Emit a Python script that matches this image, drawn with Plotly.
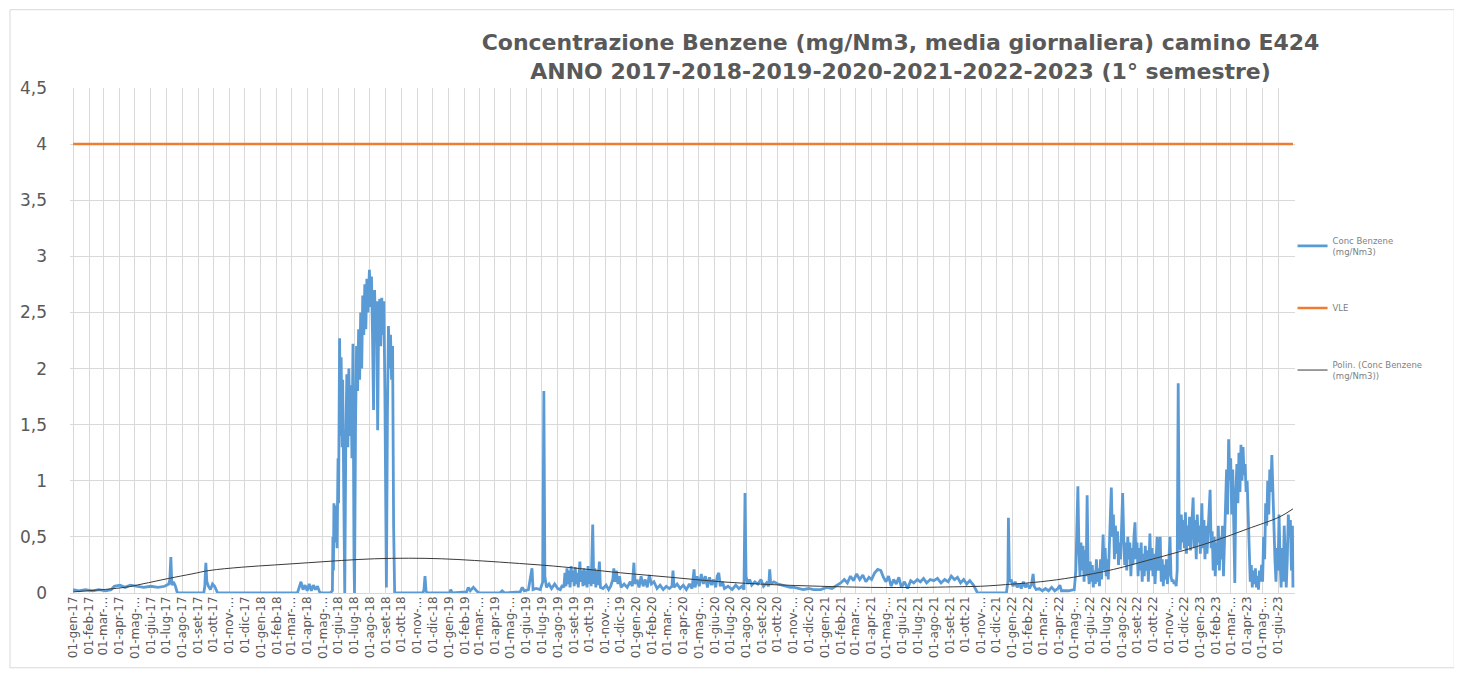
import plotly.graph_objects as go

# ---------------- data ----------------
DATES = [
    # 2017 - early 2018
    "2017-01-01","2017-01-12","2017-01-25","2017-02-08","2017-02-20","2017-03-05","2017-03-16","2017-03-22",
    "2017-04-02","2017-04-12","2017-04-22","2017-05-05","2017-05-18","2017-06-01","2017-06-15","2017-06-28",
    "2017-07-06","2017-07-08","2017-07-10","2017-07-12","2017-07-15","2017-07-19","2017-07-22","2017-07-25",
    "2017-09-12","2017-09-14","2017-09-16","2017-09-18","2017-09-21","2017-09-25","2017-09-29","2017-10-03",
    "2017-10-07","2017-10-09","2018-03-13","2018-03-16","2018-03-20","2018-03-24","2018-03-28","2018-04-01",
    "2018-04-05","2018-04-09","2018-04-13","2018-04-17","2018-04-21","2018-04-25","2018-04-28","2018-05-16",
    # 2018 episode
    "2018-05-20","2018-05-21","2018-05-22","2018-05-23","2018-05-25","2018-05-27","2018-05-29","2018-05-31",
    "2018-06-01","2018-06-03","2018-06-05","2018-06-06","2018-06-08","2018-06-09","2018-06-11","2018-06-13",
    "2018-06-15","2018-06-17","2018-06-19","2018-06-21","2018-06-23","2018-06-25","2018-06-27","2018-06-29",
    "2018-07-01","2018-07-02","2018-07-04","2018-07-06","2018-07-08","2018-07-10","2018-07-12","2018-07-14",
    "2018-07-16","2018-07-18","2018-07-20","2018-07-22","2018-07-24","2018-07-26","2018-07-28","2018-07-31",
    "2018-08-02","2018-08-04","2018-08-06","2018-08-08","2018-08-10","2018-08-12","2018-08-14","2018-08-16",
    "2018-08-18","2018-08-20","2018-08-22","2018-08-24","2018-08-26","2018-08-28","2018-08-30","2018-09-02",
    "2018-09-04","2018-09-06","2018-09-08","2018-09-10","2018-09-12","2018-09-14","2018-09-16","2018-09-18",
    # late 2018 - 2019
    "2018-11-12","2018-11-14","2018-11-16","2018-11-18","2018-11-20","2019-01-03","2019-01-05","2019-01-08",
    "2019-02-05","2019-02-08","2019-02-12","2019-02-18","2019-02-24","2019-03-01","2019-04-10","2019-04-15",
    "2019-04-20","2019-05-20","2019-05-24","2019-05-28","2019-06-05","2019-06-12","2019-06-14","2019-06-20",
    "2019-06-28","2019-07-03","2019-07-05","2019-07-07","2019-07-10","2019-07-15","2019-07-20","2019-07-26",
    "2019-08-01","2019-08-06","2019-08-10","2019-08-13","2019-08-15","2019-08-17","2019-08-19","2019-08-21",
    "2019-08-23","2019-08-25","2019-08-27","2019-08-29","2019-08-31","2019-09-02","2019-09-04","2019-09-06",
    "2019-09-08","2019-09-10","2019-09-13","2019-09-15","2019-09-17","2019-09-19","2019-09-21","2019-09-23",
    "2019-09-25","2019-09-27","2019-09-29","2019-10-01","2019-10-03","2019-10-05","2019-10-08","2019-10-10",
    "2019-10-12","2019-10-14","2019-10-16","2019-10-18","2019-10-21","2019-10-23","2019-10-28","2019-11-03",
    "2019-11-08","2019-11-12","2019-11-16","2019-11-18","2019-11-20","2019-11-23","2019-11-26","2019-11-29",
    "2019-12-02","2019-12-08","2019-12-14","2019-12-20","2019-12-24","2019-12-27","2019-12-29",
    # 2020
    "2020-01-02","2020-01-06","2020-01-10","2020-01-14","2020-01-18","2020-01-22","2020-01-26","2020-01-30",
    "2020-02-04","2020-02-10","2020-02-16","2020-02-22","2020-02-28","2020-03-05","2020-03-10","2020-03-12",
    "2020-03-14","2020-03-20","2020-03-26","2020-04-01","2020-04-07","2020-04-13","2020-04-18","2020-04-22",
    "2020-04-24","2020-04-28","2020-05-02","2020-05-06","2020-05-10","2020-05-14","2020-05-18","2020-05-22",
    "2020-05-26","2020-05-30","2020-06-03","2020-06-06","2020-06-09","2020-06-12","2020-06-16","2020-06-20",
    "2020-06-27","2020-07-05","2020-07-12","2020-07-18","2020-07-24","2020-07-28","2020-07-30","2020-08-01",
    "2020-08-04","2020-08-08","2020-08-12","2020-08-18","2020-08-24","2020-08-30","2020-09-04","2020-09-10",
    "2020-09-14","2020-09-16","2020-09-18","2020-09-24","2020-10-02","2020-10-10","2020-10-18","2020-10-26",
    "2020-11-03","2020-11-10","2020-11-20","2020-12-01","2020-12-10","2020-12-24",
    # 2021
    "2021-01-05","2021-01-15","2021-01-25","2021-02-01","2021-02-08","2021-02-14","2021-02-20","2021-02-26",
    "2021-03-04","2021-03-10","2021-03-16","2021-03-22","2021-03-28","2021-04-02","2021-04-08","2021-04-14",
    "2021-04-20","2021-04-25","2021-04-30","2021-05-05","2021-05-10","2021-05-15","2021-05-20","2021-05-25",
    "2021-05-30","2021-06-05","2021-06-11","2021-06-17","2021-06-23","2021-06-30","2021-07-06","2021-07-12",
    "2021-07-18","2021-07-25","2021-08-01","2021-08-08","2021-08-15","2021-08-22","2021-08-29","2021-09-04",
    "2021-09-10","2021-09-16","2021-09-22","2021-09-28","2021-10-04","2021-10-10","2021-10-17","2021-10-22",
    "2021-10-25","2021-12-20","2021-12-23","2021-12-24","2021-12-26","2021-12-29",
    # 2022 (Jan - Apr)
    "2022-01-02","2022-01-06","2022-01-10","2022-01-14","2022-01-18","2022-01-22","2022-01-26","2022-01-30",
    "2022-02-03","2022-02-07","2022-02-10","2022-02-12","2022-02-16","2022-02-22","2022-02-28","2022-03-06",
    "2022-03-12","2022-03-18","2022-03-24","2022-03-30","2022-04-03","2022-04-06","2022-04-20","2022-04-30",
    # 2022 May - Dec
    "2022-05-01","2022-05-04","2022-05-06","2022-05-08","2022-05-10","2022-05-12","2022-05-14","2022-05-16",
    "2022-05-18","2022-05-20","2022-05-22","2022-05-24","2022-05-26","2022-05-28","2022-05-30","2022-06-01",
    "2022-06-03","2022-06-05","2022-06-07","2022-06-09","2022-06-11","2022-06-13","2022-06-15","2022-06-17",
    "2022-06-19","2022-06-21","2022-06-23","2022-06-26","2022-06-28","2022-06-30","2022-07-02","2022-07-04",
    "2022-07-06","2022-07-08","2022-07-10","2022-07-12","2022-07-14","2022-07-16","2022-07-18","2022-07-20",
    "2022-07-22","2022-07-24","2022-07-26","2022-07-28","2022-07-30","2022-08-01","2022-08-03","2022-08-05",
    "2022-08-07","2022-08-09","2022-08-11","2022-08-13","2022-08-15","2022-08-17","2022-08-19","2022-08-21",
    "2022-08-23","2022-08-25","2022-08-27","2022-08-29","2022-08-31","2022-09-02","2022-09-04","2022-09-06",
    "2022-09-08","2022-09-10","2022-09-12","2022-09-14","2022-09-16","2022-09-18","2022-09-20","2022-09-22",
    "2022-09-25","2022-09-27","2022-09-29","2022-10-01","2022-10-03","2022-10-05","2022-10-07","2022-10-09",
    "2022-10-11","2022-10-13","2022-10-15","2022-10-17","2022-10-19","2022-10-21","2022-10-23","2022-10-25",
    "2022-10-27","2022-10-29","2022-10-31","2022-11-03","2022-11-05","2022-11-07","2022-11-09","2022-11-11",
    "2022-11-13","2022-11-15","2022-11-17","2022-11-19","2022-11-21","2022-11-23","2022-11-25","2022-11-27",
    "2022-11-29","2022-12-01","2022-12-03","2022-12-05","2022-12-07","2022-12-09","2022-12-11","2022-12-13",
    "2022-12-15","2022-12-18","2022-12-20","2022-12-22","2022-12-24","2022-12-26","2022-12-28","2022-12-30",
    # 2023
    "2023-01-01","2023-01-04","2023-01-06","2023-01-08","2023-01-10","2023-01-12","2023-01-14","2023-01-16",
    "2023-01-18","2023-01-20","2023-01-22","2023-01-24","2023-01-26","2023-01-28","2023-01-30","2023-02-01",
    "2023-02-03","2023-02-05","2023-02-07","2023-02-09","2023-02-11","2023-02-13","2023-02-15","2023-02-17",
    "2023-02-19","2023-02-21","2023-02-23","2023-02-25","2023-02-27","2023-03-01","2023-03-03","2023-03-05",
    "2023-03-07","2023-03-09","2023-03-11","2023-03-13","2023-03-15","2023-03-17","2023-03-19","2023-03-21",
    "2023-03-23","2023-03-25","2023-03-27","2023-03-29","2023-03-31","2023-04-02","2023-04-04","2023-04-06",
    "2023-04-08","2023-04-10","2023-04-12","2023-04-14","2023-04-16","2023-04-18","2023-04-20","2023-04-22",
    "2023-04-24","2023-04-26","2023-04-28","2023-04-30","2023-05-02","2023-05-04","2023-05-06","2023-05-08",
    "2023-05-10","2023-05-12","2023-05-14","2023-05-16","2023-05-18","2023-05-20","2023-05-22","2023-05-24",
    "2023-05-26","2023-05-28","2023-05-30","2023-06-01","2023-06-03","2023-06-05","2023-06-07","2023-06-09",
    "2023-06-11","2023-06-13","2023-06-15","2023-06-17","2023-06-19","2023-06-21","2023-06-23","2023-06-25",
    "2023-06-27","2023-06-29","2023-06-30",
]

CONC = [
    # 2017 - early 2018
    0.03,0.02,0.03,0.02,0.03,0.02,0.03,0.06,
    0.07,0.05,0.07,0.06,0.05,0.06,0.05,0.06,
    0.08,0.12,0.32,0.07,0.10,0.06,0.01,0.0,
    0.0,0.06,0.27,0.10,0.06,0.03,0.08,0.06,
    0.01,0.0,0.0,0.04,0.10,0.03,0.07,0.02,
    0.08,0.02,0.07,0.03,0.06,0.01,0.0,0.0,
    # 2018 episode
    0.02,0.5,0.2,0.8,0.45,0.78,0.4,1.2,
    0.8,2.27,1.4,2.1,1.3,1.9,0.7,0.0,
    1.3,1.95,1.3,2.0,1.4,1.85,1.2,2.22,
    0.3,0.0,1.5,2.2,1.8,2.35,1.9,2.5,
    2.0,2.65,2.3,2.75,2.35,2.8,2.5,2.88,
    2.55,2.82,2.3,1.63,2.7,2.3,2.6,1.45,
    2.5,2.62,2.2,2.63,2.3,2.6,1.8,0.05,
    1.6,2.38,2.0,2.3,1.9,2.2,0.6,0.0,
    # late 2018 - 2019
    0.0,0.03,0.15,0.02,0.0,0.0,0.03,0.0,
    0.01,0.05,0.02,0.05,0.02,0.0,0.0,0.02,
    0.0,0.01,0.05,0.02,0.03,0.22,0.03,0.04,
    0.03,0.1,1.8,0.15,0.05,0.08,0.04,0.08,
    0.04,0.03,0.07,0.05,0.18,0.06,0.22,0.08,
    0.2,0.05,0.24,0.1,0.2,0.06,0.23,0.08,
    0.18,0.05,0.28,0.1,0.2,0.06,0.22,0.07,
    0.2,0.05,0.24,0.08,0.21,0.06,0.61,0.08,
    0.22,0.05,0.2,0.07,0.28,0.05,0.04,0.07,
    0.03,0.06,0.12,0.22,0.1,0.2,0.08,0.15,
    0.05,0.08,0.05,0.1,0.06,0.27,0.08,
    # 2020
    0.12,0.05,0.15,0.06,0.12,0.05,0.16,0.08,
    0.1,0.04,0.07,0.03,0.06,0.04,0.06,0.2,
    0.05,0.08,0.04,0.07,0.03,0.08,0.04,0.21,
    0.05,0.15,0.06,0.17,0.08,0.15,0.05,0.14,
    0.07,0.12,0.05,0.15,0.18,0.06,0.1,0.04,
    0.06,0.03,0.07,0.04,0.06,0.03,0.89,0.15,
    0.08,0.12,0.07,0.1,0.08,0.12,0.06,0.09,
    0.06,0.21,0.08,0.1,0.08,0.07,0.06,0.05,
    0.05,0.04,0.03,0.04,0.03,0.03,
    # 2021
    0.05,0.04,0.07,0.09,0.12,0.09,0.15,0.11,
    0.17,0.12,0.16,0.1,0.14,0.12,0.18,0.21,
    0.2,0.14,0.1,0.15,0.06,0.12,0.08,0.14,
    0.05,0.1,0.04,0.11,0.09,0.12,0.1,0.13,
    0.09,0.12,0.11,0.13,0.09,0.12,0.1,0.15,
    0.12,0.14,0.09,0.12,0.08,0.11,0.07,0.03,
    0.0,0.0,0.1,0.67,0.1,0.12,
    # 2022 (Jan - Apr)
    0.06,0.1,0.05,0.08,0.04,0.1,0.05,0.08,
    0.04,0.08,0.17,0.06,0.03,0.04,0.02,0.04,
    0.02,0.05,0.02,0.04,0.07,0.02,0.02,0.03,
    # 2022 May - Dec
    0.03,0.2,0.5,0.95,0.4,0.15,0.45,0.2,
    0.42,0.1,0.38,0.15,0.87,0.2,0.08,0.28,
    0.1,0.25,0.05,0.2,0.08,0.3,0.1,0.22,
    0.06,0.3,0.12,0.52,0.2,0.4,0.15,0.3,
    0.12,0.45,0.65,0.94,0.5,0.7,0.3,0.6,
    0.35,0.55,0.25,0.45,0.3,0.6,0.89,0.5,
    0.25,0.45,0.2,0.5,0.3,0.45,0.15,0.4,
    0.25,0.5,0.63,0.3,0.45,0.15,0.4,0.2,
    0.45,0.1,0.35,0.15,0.42,0.2,0.38,0.1,
    0.53,0.2,0.4,0.15,0.35,0.08,0.3,0.5,
    0.2,0.35,0.5,0.1,0.3,0.06,0.25,0.12,
    0.3,0.08,0.2,0.5,0.15,0.1,0.12,0.08,
    0.1,0.06,0.2,1.87,0.5,0.38,0.7,0.45,
    0.65,0.4,0.72,0.35,0.6,0.42,0.68,0.38,
    0.6,0.85,0.4,0.65,0.3,0.7,0.45,0.6,
    # 2023
    0.35,0.8,0.4,0.65,0.3,0.6,0.35,0.55,
    0.7,0.92,0.4,0.55,0.2,0.5,0.15,0.45,
    0.25,0.6,0.2,0.5,0.3,0.6,0.15,0.55,
    0.8,1.1,0.7,1.37,1.0,1.2,0.7,1.1,
    0.6,0.09,0.9,1.15,0.8,1.25,0.9,1.32,
    1.0,1.3,1.05,1.15,0.9,1.0,0.7,0.3,
    0.1,0.25,0.05,0.2,0.08,0.22,0.05,0.15,
    0.03,0.2,0.1,0.25,0.1,0.5,0.3,0.8,
    0.6,1.0,0.7,1.1,0.9,1.23,0.9,0.5,
    0.3,0.1,0.4,0.2,0.7,0.3,0.05,0.4,
    0.1,0.6,0.2,0.05,0.3,0.7,0.5,0.65,
    0.2,0.6,0.05,
]

VLE = 4.0

TREND_DATES = [
    "2017-01-01","2017-04-11","2017-05-15","2017-07-06","2017-08-20","2017-09-22","2017-11-25",
    "2018-01-28","2018-04-04","2018-06-07","2018-08-10","2018-10-15","2018-12-18","2019-02-20",
    "2019-04-27","2019-07-24","2019-09-29","2019-12-01","2020-03-08","2020-06-13","2020-09-18",
    "2020-12-24","2021-03-31","2021-07-06","2021-09-08","2021-10-31","2022-01-03","2022-02-24",
    "2022-04-29","2022-07-16","2022-09-20","2022-11-23","2023-01-26","2023-04-02","2023-06-05",
    "2023-06-30",
]
TREND_VALUES = [
    0.01,0.05,0.08,0.13,0.17,0.20,0.23,
    0.25,0.27,0.29,0.305,0.31,0.305,0.29,
    0.27,0.24,0.21,0.18,0.14,0.10,0.075,
    0.06,0.05,0.05,0.055,0.06,0.08,0.10,
    0.14,0.21,0.29,0.37,0.46,0.57,0.68,
    0.75,
]

MONTHS_IT = ["gen","feb","mar","apr","mag","giu","lug","ago","set","ott","nov","dic"]
TRUNCATED_MONTHS = ["mar", "mag", "nov"]
YEARS = [2017, 2018, 2019, 2020, 2021, 2022, 2023]
LAST_MONTH_2023 = 6

Y_TICKS = [0, 0.5, 1, 1.5, 2, 2.5, 3, 3.5, 4, 4.5]

# ---------------- build tick labels ----------------
tick_vals, tick_text = [], []
for y in YEARS:
    for mi, m in enumerate(MONTHS_IT):
        if y == 2023 and mi >= LAST_MONTH_2023:
            break
        tick_vals.append(f"{y}-{mi + 1:02d}-01")
        yy = str(y)[2:]
        tick_text.append(f"01-{m}-…" if m in TRUNCATED_MONTHS else f"01-{m}-{yy}")

y_text = [("%g" % v).replace(".", ",") for v in Y_TICKS]

FONT = "DejaVu Sans"
GREY = "#595959"
GRID = "#d9d9d9"

fig = go.Figure()
fig.add_trace(go.Scatter(
    x=DATES, y=CONC, mode="lines", name="Conc Benzene<br>(mg/Nm3)",
    line=dict(color="#5B9BD5", width=2.8), legendgroup="a"))
fig.add_trace(go.Scatter(
    x=[DATES[0], DATES[-1]], y=[VLE, VLE], mode="lines", name="VLE",
    line=dict(color="#ED7D31", width=2.5), legendgroup="b"))
fig.add_trace(go.Scatter(
    x=TREND_DATES, y=TREND_VALUES, mode="lines", name="Polin. (Conc Benzene<br>(mg/Nm3))",
    line=dict(color="#3a3a3a", width=1, shape="spline"), legendgroup="c"))

# the page body has an 8px margin, so the figure is sized 8px smaller
fig.update_layout(
    width=1454, height=667,
    margin=dict(l=60, r=167, t=80, b=82),
    paper_bgcolor="white", plot_bgcolor="white",
    font=dict(family=FONT, color=GREY),
    title=dict(
        text="Concentrazione Benzene (mg/Nm3, media giornaliera) camino E424<br>"
             "ANNO 2017-2018-2019-2020-2021-2022-2023 (1° semestre)",
        x=0.678, xref="paper", xanchor="center",
        y=1 - 42 / 667, yref="container", yanchor="top",
        font=dict(family=FONT, size=22, color=GREY, weight="bold"),
    ),
    showlegend=True,
    legend=dict(
        x=0.998, y=0.722, xanchor="left", yanchor="top",
        font=dict(family=FONT, size=8.5, color="#7f7f7f"),
        tracegroupgap=40, bgcolor="rgba(0,0,0,0)", itemwidth=30,
    ),
)

fig.update_xaxes(
    type="date", range=["2016-12-26", "2023-07-04"],
    tickmode="array", tickvals=tick_vals, ticktext=tick_text,
    tickangle=-90, tickfont=dict(family=FONT, size=12, color=GREY),
    showgrid=True, gridcolor=GRID, gridwidth=1,
    showline=False, zeroline=False, ticks="",
)
fig.update_yaxes(
    range=[0, 4.5], tickmode="array", tickvals=Y_TICKS, ticktext=y_text,
    tickfont=dict(family=FONT, size=17, color=GREY),
    showgrid=True, gridcolor=GRID, gridwidth=1,
    zeroline=True, zerolinecolor=GRID, zerolinewidth=1,
    showline=False, ticks="", ticklabelstandoff=22,
)

# light frame around the whole chart, as in the reference
fig.add_shape(type="rect", xref="paper", yref="paper",
              x0=-0.049, x1=1.13, y0=-0.148, y1=1.155,
              line=dict(color="#d9d9d9", width=1), fillcolor="rgba(0,0,0,0)", layer="below")

assert len(DATES) == len(CONC), (len(DATES), len(CONC))
assert len(TREND_DATES) == len(TREND_VALUES)

fig.write_html("out.html")
